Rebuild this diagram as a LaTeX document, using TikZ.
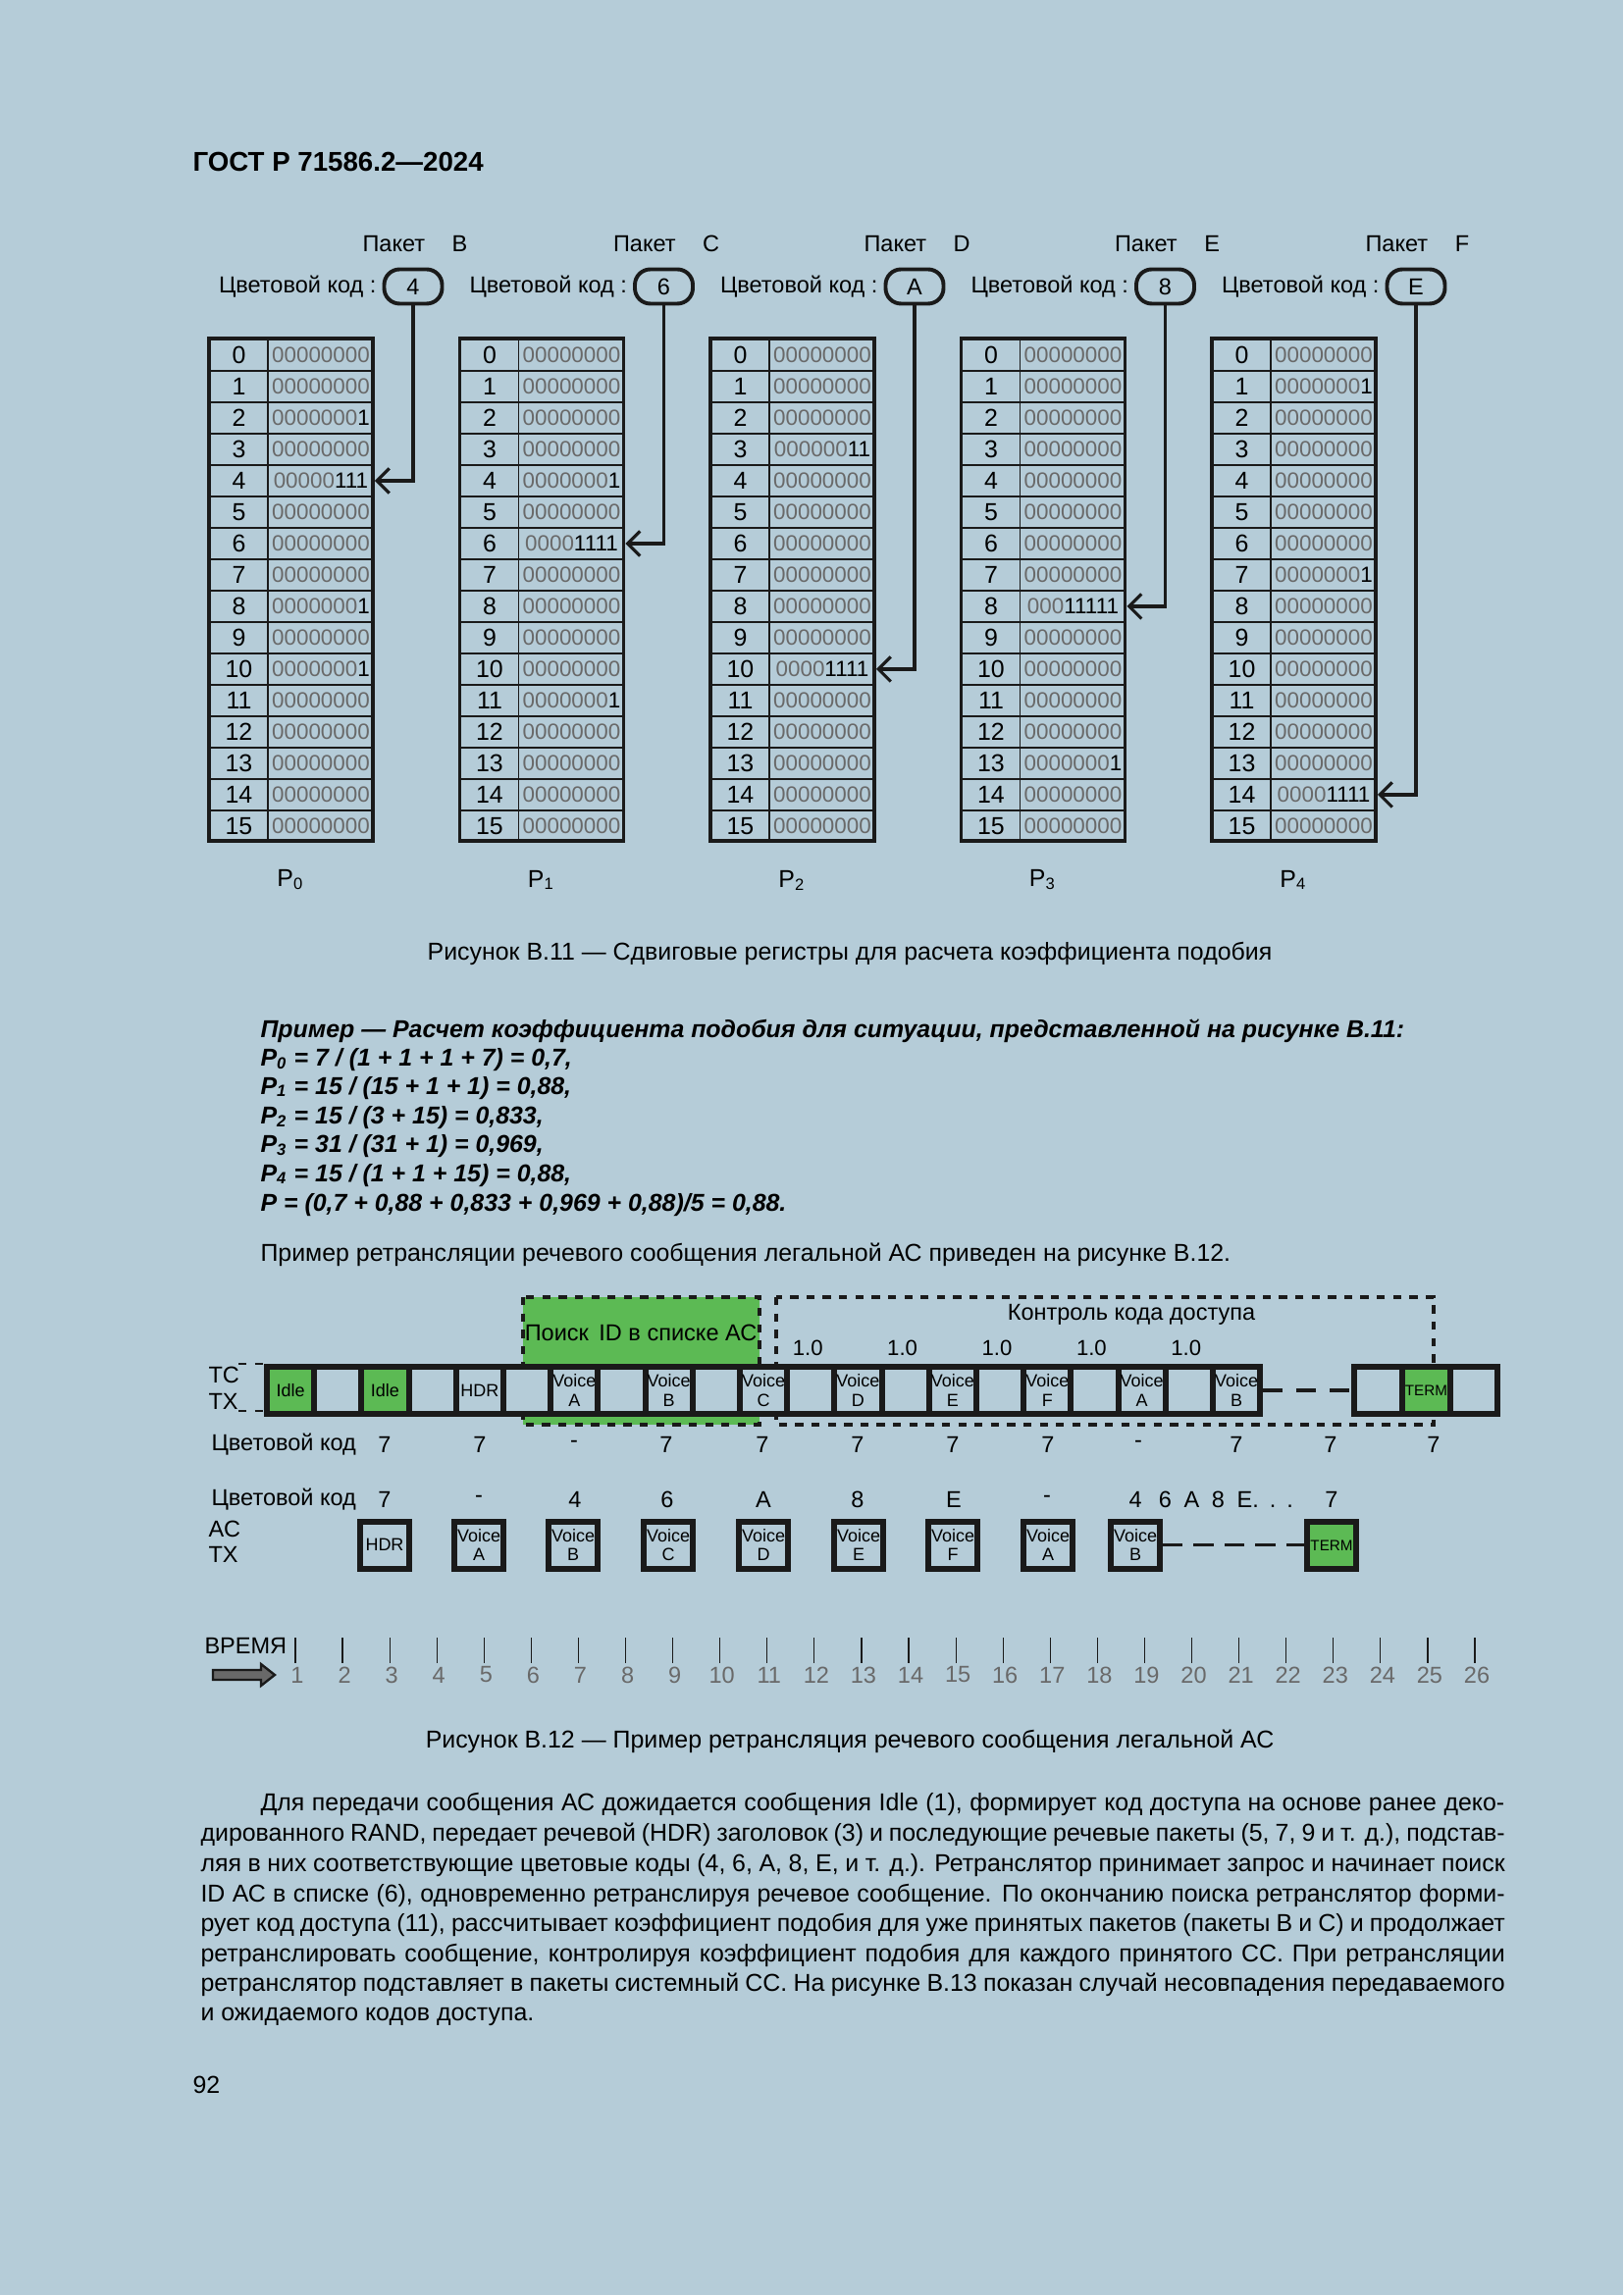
\documentclass[tikz,border=0pt]{standalone}
\usepackage{fontspec}
\setmainfont{Liberation Sans}
\usetikzlibrary{arrows.meta}
\definecolor{bg}{RGB}{181,204,216}
\definecolor{grn}{RGB}{92,186,84}
\definecolor{dk}{RGB}{26,26,26}
\definecolor{zg}{RGB}{105,105,105}
\newcommand\zz[1]{\textcolor{zg}{#1}}
\newcommand\regbits[1]{\ifcase#1 \zz{00000000}\or\zz{0000000}1\or\zz{000000}11\or\zz{00000}111\or\zz{0000}1111\or\zz{000}11111\fi}
\newcommand\jline[2]{\hbox to #1{#2}}
\begin{document}
\begin{tikzpicture}[x=0.127mm,y=-0.127mm,
  txt/.style={inner sep=0pt,font=\fontsize{8.5}{10}\selectfont},
  idx/.style={inner sep=0pt,draw=dk,line width=0.25mm,minimum width=59*0.127mm,minimum height=32*0.127mm,anchor=north west,font=\fontsize{9}{10}\selectfont},
  bitc/.style={inner sep=0pt,draw=dk,line width=0.25mm,minimum width=108*0.127mm,minimum height=32*0.127mm,anchor=north west,font=\fontsize{8.1}{10}\selectfont,align=right},
  codebox/.style={draw=dk,line width=0.5mm,rounded corners=2mm,minimum width=59*0.127mm,minimum height=35*0.127mm,inner sep=0pt,font=\fontsize{8.5}{10}\selectfont},
  arr/.style={draw=dk,line width=0.4mm,-{Straight Barb[length=1.6mm,width=3.2mm,line width=0.4mm]}},
  cell/.style={draw=dk,line width=0.75mm,fill=bg,minimum width=48.2*0.127mm,minimum height=48*0.127mm,inner sep=0pt,anchor=north west,font=\fontsize{6.5}{7}\selectfont,align=center},
  acbox/.style={draw=dk,line width=0.7mm,fill=bg,minimum width=50*0.127mm,minimum height=48*0.127mm,inner sep=0pt,anchor=north,font=\fontsize{6.5}{7}\selectfont,align=center},
  tl/.style={inner sep=0pt,font=\fontsize{8.5}{10}\selectfont},
  body/.style={inner sep=0pt,anchor=base west,font=\fontsize{9}{11}\selectfont},
  ex/.style={inner sep=0pt,anchor=base west,font=\fontsize{9}{11}\selectfont\bfseries\itshape},
]
\fill[bg] (0,0) rectangle (1654,2339);
\useasboundingbox (0,0) rectangle (1654,2339);
\node[inner sep=0pt,anchor=base west,font=\fontsize{10}{12}\selectfont\bfseries] (hdr) at (196,175) {ГОСТ Р 71586.2—2024};

% registers
\foreach \t/\pk/\cc/\ar/\data in {
 0/B/4/4/{0,0,1,0,3,0,0,0,1,0,1,0,0,0,0,0},
 1/C/6/6/{0,0,0,0,1,0,4,0,0,0,0,1,0,0,0,0},
 2/D/A/10/{0,0,0,2,0,0,0,0,0,0,4,0,0,0,0,0},
 3/E/8/8/{0,0,0,0,0,0,0,0,5,0,0,0,0,1,0,0},
 4/F/E/14/{0,1,0,0,0,0,0,1,0,0,0,0,0,0,4,0}}{
  \pgfmathsetmacro\T{213+255.5*\t}
  \foreach[count=\r from 0] \n in \data {
    \node[idx] (i\t r\r) at (\T,345+32*\r) {\r};
    \node[bitc] (t\t r\r) at (\T+59,345+32*\r) {\regbits{\n}};
  }
  \draw[dk,line width=0.5mm] (\T,345) rectangle (\T+167,857);
  \node[codebox] (code\t) at (\T+208,292) {\cc};
  \node[txt,anchor=east] (cl\t) at ([xshift=-0.7mm]code\t.west) {Цветовой код :};
  \node[txt,anchor=base west] (pk\t) at (\T+156,257) {Пакет\hspace{3.5mm}\pk};
  \node[txt,font=\fontsize{9}{10}\selectfont] (pl\t) at (\T+83,897) {P\textsubscript{\t}};
  \draw[arr] (code\t.south) |- (t\t r\ar.east);
}
\node[inner sep=0pt,font=\fontsize{9}{11}\selectfont] (cap1) at (866,972) {Рисунок В.11 — Сдвиговые регистры для расчета коэффициента подобия};

\node[ex] (e0) at (265,1057) {Пример — Расчет коэффициента подобия для ситуации, представленной на рисунке В.11:};
\node[ex] (e1) at (265,1086) {P\textsubscript{0} = 7 / (1 + 1 + 1 + 7) = 0,7,};
\node[ex] (e2) at (265,1115) {P\textsubscript{1} = 15 / (15 + 1 + 1) = 0,88,};
\node[ex] (e3) at (265,1145) {P\textsubscript{2} = 15 / (3 + 15) = 0,833,};
\node[ex] (e4) at (265,1174) {P\textsubscript{3} = 31 / (31 + 1) = 0,969,};
\node[ex] (e5) at (265,1204) {P\textsubscript{4} = 15 / (1 + 1 + 15) = 0,88,};
\node[ex] (e6) at (265,1234) {P = (0,7 + 0,88 + 0,833 + 0,969 + 0,88)/5 = 0,88.};
\node[body] (b0) at (265,1285) {Пример ретрансляции речевого сообщения легальной АС приведен на рисунке В.12.};

% timing diagram
\draw[dk,line width=0.6mm,dashed,fill=grn] (533,1322) rectangle (774,1452);
\draw[dk,line width=0.6mm,dashed] (791,1322) rectangle (1461,1452);
\node[tl,font=\fontsize{8.5}{10}\selectfont] (search) at (653,1358) {Поиск\, ID в списке АС};
\node[tl] (ctrl) at (1153,1340) {Контроль кода доступа};
\foreach \k in {11,13,15,17,19}{\node[tl,font=\fontsize{8}{9}\selectfont] (one\k) at (269+48.2*\k+24,1374) {1.0};}
\node[tl,anchor=west] (tc) at (212,1401) {TC};
\node[tl,anchor=west] (tx) at (212,1428) {TX};
\draw[dk,thin,dashed] (243,1390) -- (269,1390) (243,1438) -- (269,1438);
\foreach \k/\lab/\f in {0/Idle/grn,1//bg,2/Idle/grn,3//bg,4/HDR/bg,5//bg,6/Voice\\A/bg,7//bg,8/Voice\\B/bg,9//bg,10/Voice\\C/bg,11//bg,12/Voice\\D/bg,13//bg,14/Voice\\E/bg,15//bg,16/Voice\\F/bg,17//bg,18/Voice\\A/bg,19//bg,20/Voice\\B/bg}{
  \node[cell,fill=\f] (c\k) at (269+48.2*\k,1390) {\lab};
}
\node[cell,minimum width=49*0.127mm] (c22) at (1377,1390) {};
\node[cell,minimum width=49*0.127mm,fill=grn,font=\fontsize{5.5}{6}\selectfont] (c23) at (1426,1390) {TERM};
\node[cell,minimum width=48*0.127mm] (c24) at (1475,1390) {};
\draw[dk,line width=0.4mm,dash pattern=on 2.5mm off 1.8mm] (c20.east) -- (c22.west);

\node[tl,anchor=west] (cc1) at (215,1472) {Цветовой код};
\foreach \x/\v in {392/7,489/7,585/{-},679/7,777/7,874/7,971/7,1068/7,1160/{-},1260/7,1356/7,1461/7}{
  \node[tl] at (\x,1472) {\v};}
\node[tl,anchor=west] (cc2) at (215,1528) {Цветовой код};
\foreach \x/\v in {392/7,488/{-},586/4,680/6,778/A,874/8,972/E,1067/{-},1357/7}{
  \node[tl] at (\x,1528) {\v};}
\node[tl,anchor=west] (seq) at (1150,1528) {4\hspace{2.2mm}6\hspace{1.6mm}A\hspace{1.6mm}8\hspace{1.6mm}E.\hspace{1.4mm}.\hspace{1.4mm}.};
\node[tl,anchor=west] (ac) at (212,1558) {AC};
\node[tl,anchor=west] (atx) at (212,1584) {TX};
\foreach \i/\x/\lab in {0/392/HDR,1/488/Voice\\A,2/584/Voice\\B,3/681/Voice\\C,4/778/Voice\\D,5/875/Voice\\E,6/971/Voice\\F,7/1068/Voice\\A,8/1157/Voice\\B}{
  \node[acbox] (a\i) at (\x,1548) {\lab};}
\node[acbox,fill=grn,font=\fontsize{5.5}{6}\selectfont] (a9) at (1357,1548) {TERM};
\draw[dk,line width=0.4mm,dash pattern=on 2.6mm off 1.4mm] (a8.east) -- (a9.west);

% time axis
\node[tl,anchor=west] (time) at (208,1677) {ВРЕМЯ};
\draw[dk,line width=0.3mm,fill=zg] (217,1702) -- (266,1702) -- (266,1696) -- (280,1707) -- (266,1718) -- (266,1712) -- (217,1712) -- cycle;
\foreach \k in {1,...,26}{
  \draw[dk,line width=0.15mm] (301+48.08*\k-48.08,1669) -- (301+48.08*\k-48.08,1695);
  \node[tl,text=zg,font=\fontsize{8.5}{10}\selectfont] (n\k) at (301+48.08*\k-48.08+2,1707) {\k};
}
\node[inner sep=0pt,font=\fontsize{9}{11}\selectfont] (cap2) at (866,1775) {Рисунок В.12 — Пример ретрансляция речевого сообщения легальной АС};

% paragraph
\node[body] (p1) at (265,1845) {\jline{161.0mm}{Для передачи сообщения АС дожидается сообщения Idle (1), формирует код доступа на основе ранее деко-}};
\node[body] (p2) at (204,1876) {\jline{168.8mm}{дированного RAND, передает речевой (HDR) заголовок (3) и последующие речевые пакеты (5, 7, 9 и т. д.), подстав-}};
\node[body] (p3) at (204,1907) {\jline{168.8mm}{ляя в них соответствующие цветовые коды (4, 6, А, 8, Е, и т. д.). Ретранслятор принимает запрос и начинает поиск}};
\node[body] (p4) at (204,1938) {\jline{168.8mm}{ID АС в списке (6), одновременно ретранслируя речевое сообщение. По окончанию поиска ретранслятор форми-}};
\node[body] (p5) at (204,1968) {\jline{168.8mm}{рует код доступа (11), рассчитывает коэффициент подобия для уже принятых пакетов (пакеты В и С) и продолжает}};
\node[body] (p6) at (204,1999) {\jline{168.8mm}{ретранслировать сообщение, контролируя коэффициент подобия для каждого принятого СС. При ретрансляции}};
\node[body] (p7) at (204,2029) {\jline{168.8mm}{ретранслятор подставляет в пакеты системный СС. На рисунке В.13 показан случай несовпадения передаваемого}};
\node[body] (p8) at (204,2059) {и ожидаемого кодов доступа.};
\node[body] (pg) at (196,2133) {92};
\end{tikzpicture}
\end{document}
